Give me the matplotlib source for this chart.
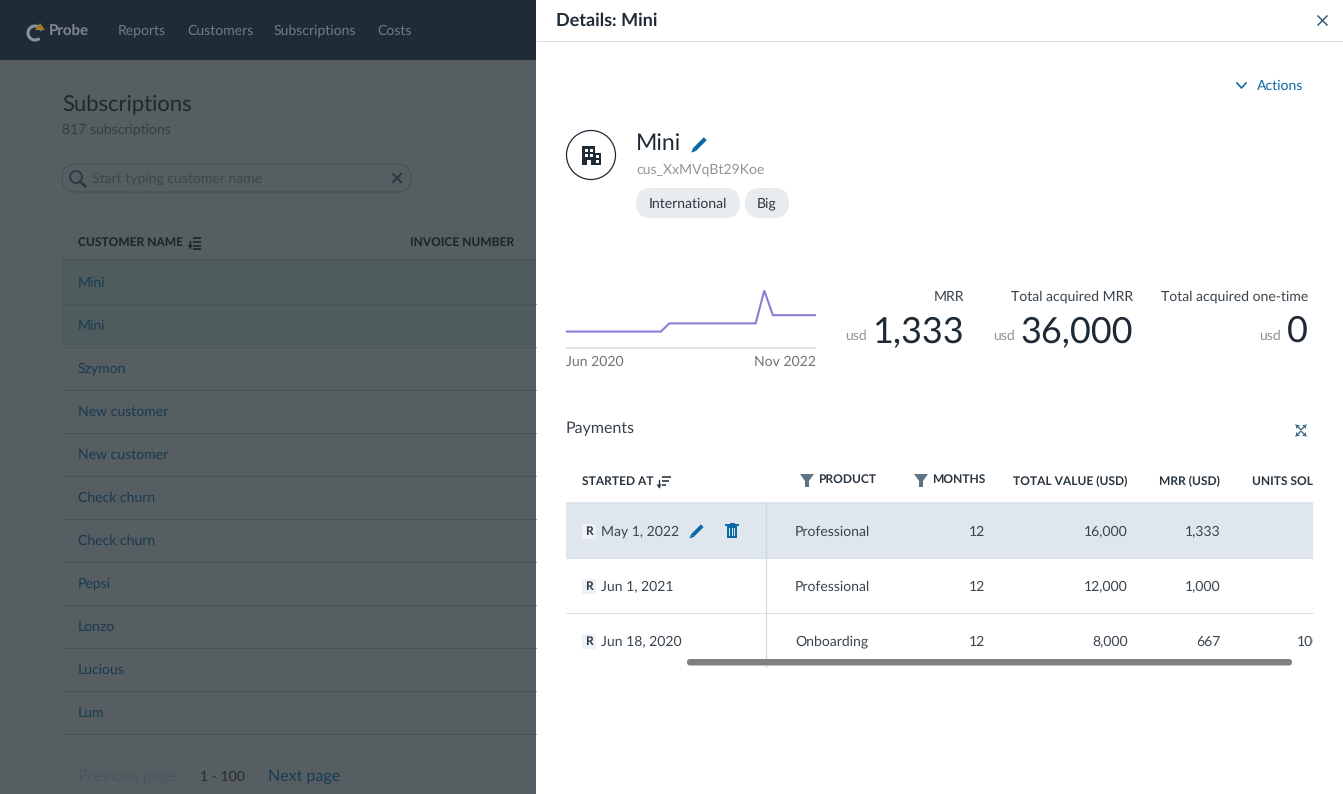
import matplotlib
matplotlib.use('Agg')
import matplotlib.pyplot as plt
from matplotlib.patches import Rectangle, FancyBboxPatch, Circle, Polygon

plt.rcParams['font.family'] = ['Lato', 'Open Sans', 'DejaVu Sans']
plt.rcParams['text.hinting'] = 'no_hinting'
plt.rcParams['text.hinting_factor'] = 1

W, H = 1343, 794

nav_items = ['Reports', 'Customers', 'Subscriptions', 'Costs']
nav_x = [118, 187, 274, 377]
customers = ['Mini', 'Mini', 'Szymon', 'New customer', 'New customer', 'Check churn',
             'Check churn', 'Pepsi', 'Lonzo', 'Lucious', 'Lum']

# sparkline, monthly mrr Jun 2020 - Nov 2022
mrr_months = list(range(30))
mrr_values = [667] * 12 + [1000] * 11 + [2333] + [1333] * 6

kpi_labels = ['MRR', 'Total acquired MRR', 'Total acquired one-time']
kpi_values = ['1,333', '36,000', '0']
kpi_right = [964, 1133, 1308]
kpi_usd_x = [846, 994, 1260]

started = ['May 1, 2022', 'Jun 1, 2021', 'Jun 18, 2020']
products = ['Professional', 'Professional', 'Onboarding']
months = ['12', '12', '12']
total_value = ['16,000', '12,000', '8,000']
mrr_col = ['1,333', '1,000', '667']
units = ['', '', '100']
row_y = [531, 586, 641]

DARK = '#1e2a35'
BLUE = '#0b6aa6'
TXT = '#3a4550'

fig = plt.figure(figsize=(W / 100, H / 100), dpi=100)
ax = fig.add_axes([0, 0, 1, 1])
ax.set_xlim(0, W)
ax.set_ylim(H, 0)
ax.axis('off')


def px(v):
    return v * 0.72


def rect(x, y, w, h, c, z=1):
    ax.add_patch(Rectangle((x, y), w, h, fc=c, ec='none', zorder=z))


def hline(x0, x1, y, c, lw=1, z=2):
    ax.plot([x0, x1], [y, y], color=c, lw=lw * 0.72, zorder=z, solid_capstyle='butt')


def txt(x, y, s, size=14, c=TXT, ha='left', w='normal', clip=None):
    # y is the middle of the line, baseline keeps a row of text level
    t = ax.text(x, y + 1 + 0.27 * size, s, fontsize=px(size), color=c, ha=ha, va='baseline',
                fontweight=w, zorder=5)
    if clip is not None:
        t.set_clip_on(True)
        t.set_clip_path(clip)
    return t


def pill(x, y, w, h, fc, ec='none', lw=1, z=3):
    r = h / 2
    ax.add_patch(FancyBboxPatch((x + r, y + r), w - 2 * r, 0, boxstyle='round,pad=%f,rounding_size=%f' % (r, r),
                                fc=fc, ec=ec, lw=lw, zorder=z, mutation_aspect=1))


def pencil(x, y, c=BLUE, s=1.0):
    # x,y centre
    ax.plot([x - 4 * s, x + 5 * s], [y + 4 * s, y - 5 * s], color=c, lw=2.6 * s, zorder=6, solid_capstyle='butt')
    ax.add_patch(Polygon([(x - 7 * s, y + 7 * s), (x - 5.5 * s, y + 2.5 * s), (x - 2.5 * s, y + 5.5 * s)],
                         fc=c, ec='none', zorder=6))


def funnel(x, y):
    c = '#5d7386'
    ax.add_patch(Polygon([(x - 7, y - 6), (x + 7, y - 6), (x + 2, y + 1), (x + 2, y + 7), (x - 2, y + 7), (x - 2, y + 1)],
                         fc=c, ec='none', zorder=6))


def sort_icon(x, y, c, shrink=False):
    # arrow and three lines
    ax.plot([x, x], [y - 2, y + 5], color=c, lw=1.0, zorder=6)
    ax.add_patch(Polygon([(x - 2.5, y + 2.5), (x + 2.5, y + 2.5), (x, y + 6)], fc=c, ec='none', zorder=6))
    widths = [9, 7, 4] if shrink else [8, 8, 8]
    for i, wd in enumerate(widths):
        hline(x + 3, x + 3 + wd, y - 5 + i * 4, c, 1.6, 6)
    if not shrink:
        hline(x + 3, x + 11, y + 6, c, 1.6, 6)


# ---- dimmed page behind the drawer
rect(0, 0, 536, H, '#575e62', 0)
rect(0, 0, 536, 60, '#1f2c38', 1)

ax.add_patch(matplotlib.patches.Arc((35, 33), 14, 14, theta1=50, theta2=340, ec='#8b9297', lw=2.2, zorder=3))
ax.add_patch(Polygon([(35, 30), (45, 30), (40, 23)], fc='#a17c24', ec='none', zorder=4))
txt(49, 30, 'Probe', 15, '#82898e', w='bold')
for s, x in zip(nav_items, nav_x):
    txt(x, 30, s, 14, '#737b81')

txt(62, 103, 'Subscriptions', 22, '#20282e')
txt(62, 129, '817 subscriptions', 14, '#363d42')

pill(62, 164, 349, 28, 'none', '#474e52', 0.7)
ax.add_patch(Circle((76, 177), 6, fc='none', ec='#2c3a44', lw=1.4, zorder=5))
ax.plot([80, 85], [181.5, 186], color='#2c3a44', lw=2, zorder=5)
txt(92, 178, 'Start typing customer name', 14, '#3f464b')
ax.plot([393, 401], [174, 182], color='#2c3a44', lw=1.5, zorder=5)
ax.plot([401, 393], [174, 182], color='#2c3a44', lw=1.5, zorder=5)

txt(78, 242, 'CUSTOMER NAME', 11.8, '#1b2228', w='bold')
sort_icon(190, 242.5, '#1b2228')
txt(410, 242, 'INVOICE NUMBER', 11.8, '#1b2228', w='bold')
hline(62, 536, 260, '#4b5256', 1.5)

rect(62, 261, 474, 85, '#4f5c5d', 1)
for i, name in enumerate(customers):
    y = 282 + i * 43
    txt(78, y, name, 14, '#173a50')
    hline(62, 536, y + 21.5, '#4c5357', 1)

txt(78, 776, 'Previous page', 16, '#485560')
txt(200, 776, '1 - 100', 14, '#262c31')
txt(268, 776, 'Next page', 16, '#153c56')

# ---- drawer
rect(536, 0, W - 536, H, 'white', 1)
hline(536, W, 40.5, '#dcdfe2', 1)
txt(556, 20, 'Details: Mini', 18, DARK, w='bold')
ax.plot([1318, 1327], [16, 25], color='#20506f', lw=1.0, zorder=5)
ax.plot([1327, 1318], [16, 25], color='#20506f', lw=1.0, zorder=5)

ax.plot([1237, 1241.5, 1246], [83, 88, 83], color=BLUE, lw=1.2, zorder=5)
txt(1257, 85, 'Actions', 14, BLUE)

ax.add_patch(Circle((591, 155), 24.5, fc='white', ec=DARK, lw=0.9, zorder=3))
rect(582, 146, 13, 19, DARK, 4)
rect(595, 152.5, 6, 12.5, DARK, 4)
for gx, gy in [(584.5, 148.5), (589.5, 148.5), (584.5, 153.5), (589.5, 153.5), (595.5, 155), (595.5, 160)]:
    rect(gx, gy, 3, 3, 'white', 5)
rect(587, 160, 4, 5, 'white', 5)

txt(636, 143, 'Mini', 23, DARK)
pencil(699.5, 144.5, s=1.15)
txt(636, 169, 'cus_XxMVqBt29Koe', 13.8, '#8f9599')
pill(636, 188, 104, 30, '#e9ecef')
txt(688, 203, 'International', 14, '#2a3640', ha='center')
pill(745, 188, 44, 30, '#e9ecef')
txt(767, 203, 'Big', 14, '#2a3640', ha='center')

# sparkline gets its own axes
sp = fig.add_axes([566 / W, 1 - 348 / H, 250 / W, 68 / H])
sp.plot(mrr_months, mrr_values, color='#8e7cd8', lw=1.5, solid_joinstyle='miter')
sp.set_xlim(0, 29)
sp.set_ylim(0, 68 * 40.6)
sp.axis('off')
hline(566, 816, 348, '#e2e4e6', 2)
txt(566, 361, 'Jun 2020', 13.5, '#6e7479')
txt(816, 361, 'Nov 2022', 13.5, '#6e7479', ha='right')

for lab, val, r, ux in zip(kpi_labels, kpi_values, kpi_right, kpi_usd_x):
    txt(r, 296, lab, 13.6, '#39434c', ha='right')
    txt(r, 331, val, 36, DARK, ha='right')
    txt(ux - 1, 335, 'usd', 14, '#8f9599')

txt(566, 428, 'Payments', 16, '#39434c')
# expand icon
for cx, cy, dx, dy in [(1296, 425, 1, 1), (1306, 425, -1, 1), (1296, 436, 1, -1), (1306, 436, -1, -1)]:
    ax.add_patch(Polygon([(cx, cy), (cx + 4 * dx, cy), (cx, cy + 4 * dy)], fc='#44708f', ec='none', zorder=5))
    ax.plot([cx, cx + 4.5 * dx], [cy, cy + 4.5 * dy], color='#44708f', lw=1, zorder=5)

# payments table
clip = Rectangle((566, 460), 1313 - 566, 210, transform=ax.transData)
rect(566, 503, 747, 55, '#dfe6ed', 1)
hline(566, 1313, 502.5, '#d5dee7', 1.5)
hline(566, 1313, 558, '#d5dee7', 1)
hline(566, 1313, 613, '#d5dee7', 1)
ax.plot([766, 766], [503, 667], color='#ccd8e3', lw=0.8, zorder=2)

txt(582, 481, 'STARTED AT', 11.8, '#2a3640', w='bold')
sort_icon(659, 482, '#2a3640', shrink=True)
funnel(807, 480)
txt(818.5, 479, 'PRODUCT', 11.8, '#2a3640', w='bold')
funnel(921, 480)
txt(932.5, 479, 'MONTHS', 11.8, '#2a3640', ha='left', w='bold')
txt(1127.5, 481, 'TOTAL VALUE (USD)', 11.6, '#2a3640', ha='right', w='bold')
txt(1220, 481, 'MRR (USD)', 11.8, '#2a3640', ha='right', w='bold')
txt(1252, 481, 'UNITS SOLD', 11.8, '#2a3640', w='bold', clip=clip)

for i, y in enumerate(row_y):
    rect(582, y - 7, 14, 15, '#eef2f6', 3)
    txt(589, y, 'R', 12, '#2a3640', ha='center', w='bold')
    txt(601, y, started[i], 13.7, TXT)
    txt(795, y, products[i], 14, TXT)
    txt(985, y, months[i], 14, TXT, ha='right')
    txt(1128, y, total_value[i], 14, TXT, ha='right')
    txt(1221, y, mrr_col[i], 14, TXT, ha='right')
    if units[i]:
        txt(1321, y, units[i], 14, TXT, ha='right', clip=clip)

pencil(697, 531, s=1.05)
# trash icon
rect(727, 526, 10, 12, BLUE, 5)
for bx in (729.3, 731.5, 733.7):
    rect(bx, 528, 1, 8, '#dfe6ed', 6)
rect(725, 524, 14, 1.6, BLUE, 5)
rect(729.5, 523, 5, 1.6, BLUE, 5)

pill(687, 659, 605, 6.5, '#808080', z=7)

fig.savefig('out.png', dpi=100)
